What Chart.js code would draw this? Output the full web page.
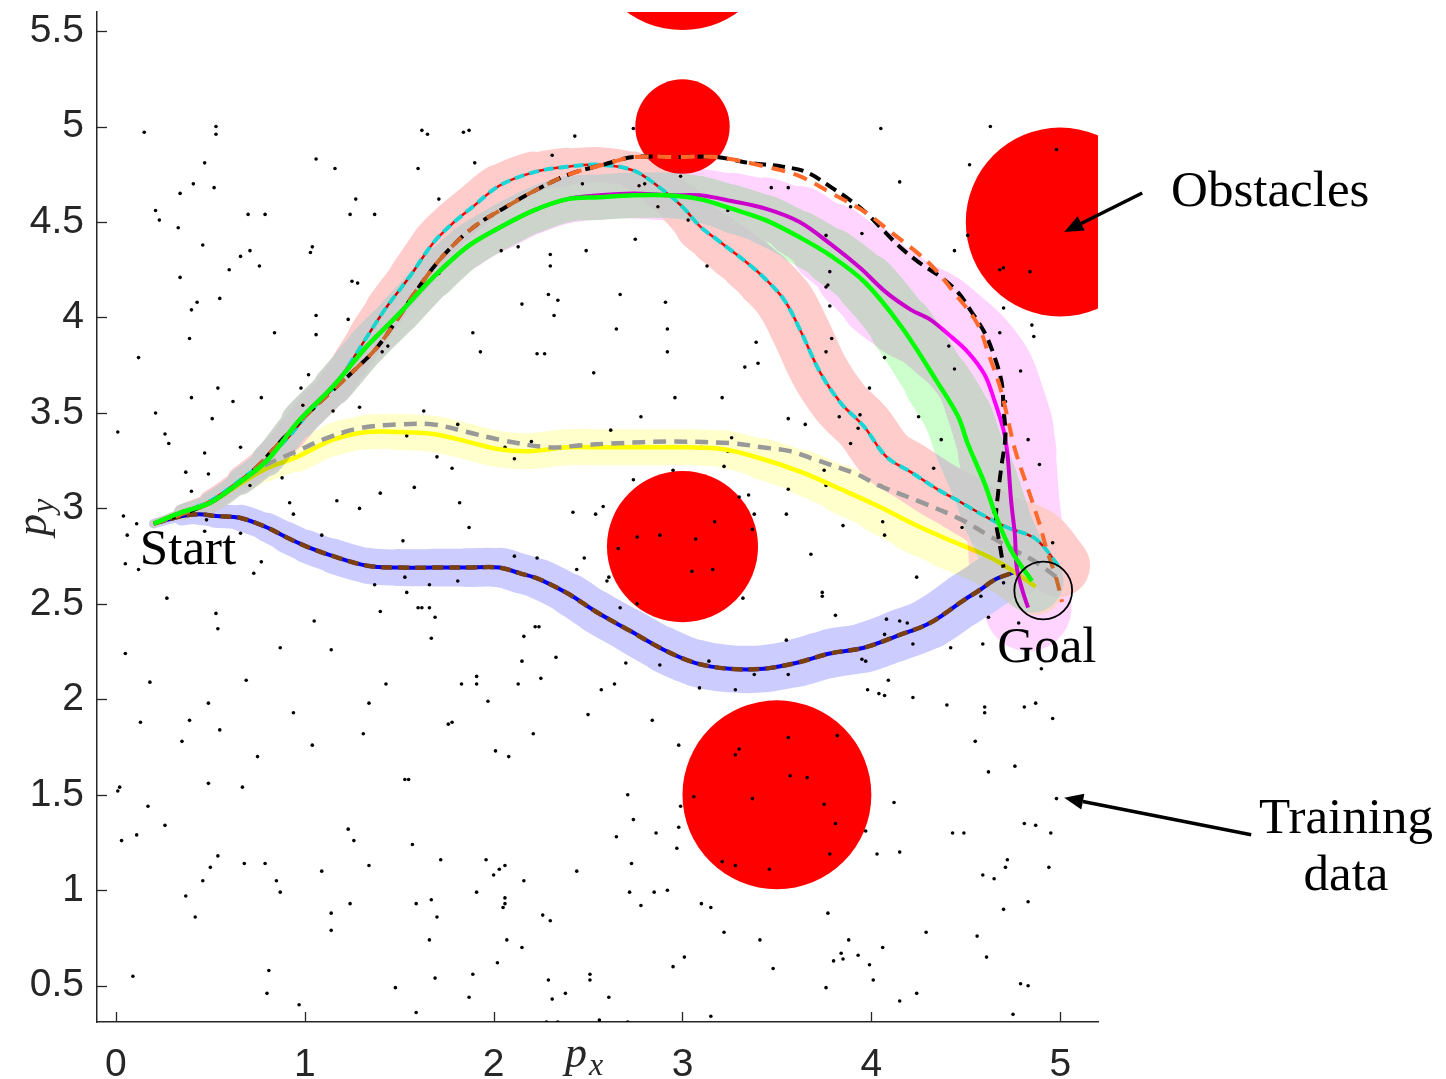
<!DOCTYPE html>
<html>
<head>
<meta charset="utf-8">
<title>Planned trajectories</title>
<script src="https://cdn.jsdelivr.net/npm/chart.js@4.4.0/dist/chart.umd.min.js"></script>
<style>
  html, body { margin: 0; padding: 0; background: #fff; }
  #wrap { width: 1446px; height: 1079px; }
</style>
</head>
<body>
<div id="wrap"><canvas id="plot" width="1446" height="1079"></canvas></div>
<script>
// axis ticks
const xTicks = [0, 1, 2, 3, 4, 5];
const yTicks = [0.5, 1, 1.5, 2, 2.5, 3, 3.5, 4, 4.5, 5, 5.5];

// obstacles (centre + radius, data units)
const obstacleX = [3, 3, 5, 3, 3.5];
const obstacleY = [6, 5, 4.5, 2.8, 1.5];
const obstacleR = [0.5, 0.25, 0.5, 0.4, 0.5];

// goal region
const goalX = 4.91, goalY = 2.57, goalR = 0.153;

// trajectories (x, y)
const bluePath = [[0.20,2.92],[0.35,2.96],[0.44,2.97],[0.53,2.96],[0.66,2.95],[0.80,2.90],[0.90,2.85],[1.01,2.80],[1.15,2.75],[1.33,2.70],[1.50,2.69],[1.68,2.69],[1.86,2.69],[2.03,2.69],[2.14,2.66],[2.24,2.63],[2.40,2.55],[2.54,2.46],[2.72,2.36],[2.90,2.26],[3.07,2.19],[3.25,2.16],[3.43,2.16],[3.60,2.19],[3.78,2.24],[3.96,2.27],[4.13,2.33],[4.31,2.40],[4.49,2.52],[4.57,2.57],[4.66,2.63],[4.77,2.67]];
const blueSd = [0,0.04,0.05,0.055,0.06,0.07,0.075,0.08,0.085,0.09,0.09,0.095,0.095,0.1,0.1,0.1,0.105,0.11,0.11,0.115,0.12,0.12,0.12,0.12,0.125,0.125,0.13,0.13,0.135,0.135,0.135,0.13];

const yellowPath = [[0.20,2.92],[0.35,2.98],[0.50,3.03],[0.66,3.13],[0.80,3.21],[0.96,3.27],[1.15,3.36],[1.33,3.40],[1.50,3.40],[1.68,3.39],[1.86,3.35],[2.03,3.31],[2.19,3.30],[2.39,3.32],[2.60,3.32],[2.80,3.32],[3.01,3.32],[3.22,3.31],[3.42,3.26],[3.63,3.19],[3.84,3.10],[4.04,3.01],[4.22,2.92],[4.40,2.84],[4.57,2.77],[4.69,2.71],[4.87,2.59]];
const yellowSd = [0,0.03,0.04,0.05,0.06,0.07,0.08,0.085,0.09,0.09,0.09,0.09,0.09,0.09,0.09,0.09,0.09,0.09,0.1,0.11,0.12,0.13,0.14,0.15,0.15,0.15,0.14];
const grayPath = [[0.20,2.92],[0.35,2.98],[0.50,3.03],[0.66,3.14],[0.80,3.23],[0.96,3.30],[1.12,3.37],[1.29,3.42],[1.50,3.44],[1.68,3.44],[1.86,3.40],[2.03,3.36],[2.29,3.32],[2.46,3.33],[2.62,3.34],[2.95,3.35],[3.28,3.34],[3.42,3.32],[3.57,3.30],[3.69,3.26],[3.92,3.18],[4.04,3.12],[4.27,3.03],[4.48,2.94],[4.60,2.87],[4.74,2.79],[4.87,2.72],[4.98,2.64]];

const redPath = [[0.20,2.92],[0.35,2.98],[0.50,3.04],[0.66,3.15],[0.80,3.26],[0.92,3.38],[1.03,3.51],[1.15,3.63],[1.24,3.76],[1.33,3.90],[1.43,4.05],[1.56,4.22],[1.68,4.39],[1.78,4.49],[1.89,4.58],[2.03,4.69],[2.21,4.76],[2.39,4.79],[2.56,4.80],[2.74,4.77],[2.88,4.68],[3.00,4.58],[3.09,4.48],[3.18,4.41],[3.26,4.35],[3.35,4.28],[3.43,4.21],[3.54,4.09],[3.63,3.92],[3.73,3.71],[3.84,3.55],[3.96,3.43],[4.08,3.27],[4.21,3.19],[4.35,3.10],[4.46,3.04],[4.60,2.96],[4.72,2.90],[4.87,2.84],[4.99,2.70]];
const redSd = [0,0.03,0.045,0.06,0.07,0.075,0.08,0.085,0.09,0.095,0.1,0.105,0.11,0.11,0.11,0.11,0.1,0.09,0.085,0.09,0.1,0.11,0.12,0.13,0.135,0.14,0.145,0.15,0.15,0.15,0.15,0.15,0.15,0.15,0.15,0.15,0.155,0.16,0.16,0.165];

const greenPath = [[0.20,2.92],[0.35,2.98],[0.50,3.03],[0.66,3.14],[0.80,3.25],[0.97,3.46],[1.15,3.64],[1.33,3.85],[1.50,4.02],[1.68,4.21],[1.86,4.37],[2.03,4.47],[2.21,4.56],[2.39,4.62],[2.56,4.63],[2.74,4.64],[2.92,4.64],[3.09,4.62],[3.26,4.57],[3.44,4.51],[3.62,4.42],[3.79,4.32],[3.97,4.18],[4.16,3.95],[4.35,3.66],[4.46,3.48],[4.51,3.34],[4.60,3.13],[4.66,2.96],[4.74,2.78],[4.85,2.62]];
const greenSd = [0,0.03,0.045,0.06,0.07,0.085,0.095,0.1,0.1,0.105,0.11,0.11,0.115,0.115,0.115,0.115,0.115,0.115,0.12,0.125,0.13,0.14,0.15,0.16,0.17,0.175,0.175,0.175,0.17,0.165,0.16];

const magentaPath = [[0.20,2.92],[0.35,2.98],[0.50,3.03],[0.66,3.14],[0.80,3.25],[0.97,3.46],[1.15,3.64],[1.33,3.85],[1.50,4.02],[1.68,4.21],[1.86,4.37],[2.03,4.47],[2.21,4.56],[2.39,4.62],[2.56,4.64],[2.74,4.65],[2.92,4.64],[3.09,4.64],[3.26,4.61],[3.44,4.57],[3.62,4.50],[3.79,4.38],[3.94,4.26],[4.08,4.13],[4.21,4.04],[4.31,3.99],[4.41,3.91],[4.51,3.82],[4.60,3.70],[4.65,3.57],[4.70,3.41],[4.72,3.29],[4.74,3.04],[4.76,2.86],[4.77,2.69],[4.80,2.57],[4.83,2.48]];
const magentaSd = [0,0.03,0.045,0.06,0.07,0.085,0.095,0.1,0.1,0.105,0.11,0.115,0.12,0.12,0.125,0.125,0.13,0.13,0.14,0.15,0.17,0.2,0.23,0.25,0.26,0.26,0.26,0.26,0.26,0.26,0.26,0.25,0.25,0.25,0.24,0.23,0.22];

const blackPath = [[0.20,2.92],[0.35,2.97],[0.50,3.03],[0.66,3.14],[0.76,3.23],[0.88,3.36],[1.01,3.49],[1.15,3.62],[1.28,3.74],[1.38,3.84],[1.49,3.99],[1.59,4.14],[1.73,4.32],[1.89,4.47],[2.05,4.57],[2.23,4.67],[2.40,4.75],[2.58,4.80],[2.74,4.84],[2.97,4.84],[3.18,4.84],[3.35,4.81],[3.53,4.79],[3.66,4.76],[3.79,4.68],[3.88,4.62],[3.97,4.55],[4.06,4.46],[4.15,4.37],[4.25,4.29],[4.37,4.21],[4.46,4.13],[4.53,4.03],[4.60,3.92],[4.65,3.80],[4.69,3.66],[4.70,3.52],[4.71,3.38],[4.69,3.23],[4.67,3.07],[4.66,2.94],[4.68,2.81],[4.70,2.69]];
const orangePath = [[0.20,2.92],[0.35,2.97],[0.50,3.03],[0.66,3.14],[0.76,3.23],[0.88,3.36],[1.01,3.49],[1.15,3.62],[1.28,3.74],[1.38,3.84],[1.49,3.99],[1.59,4.14],[1.73,4.32],[1.89,4.47],[2.05,4.57],[2.23,4.67],[2.40,4.75],[2.58,4.80],[2.74,4.84],[2.97,4.84],[3.18,4.84],[3.44,4.79],[3.62,4.74],[3.79,4.65],[3.97,4.55],[4.10,4.45],[4.23,4.35],[4.33,4.26],[4.43,4.14],[4.56,3.97],[4.62,3.81],[4.68,3.64],[4.72,3.48],[4.76,3.31],[4.83,3.10],[4.89,2.92],[4.93,2.78],[4.98,2.63],[5.01,2.51]];

// training inputs
const trainingData = [
[0.15,4.97],[0.53,5.00],[0.53,4.96],[0.47,4.81],[0.41,4.70],[0.52,4.68],[0.34,4.65],[1.06,4.83],[1.16,4.78],[1.27,4.62],[0.21,4.56],[0.23,4.51],[0.33,4.47],[0.70,4.54],[0.79,4.54],[1.24,4.54],[1.37,4.54],[0.46,4.38],[0.71,4.35],[0.66,4.32],[1.03,4.34],[1.04,4.37],[0.76,4.27],[0.60,4.25],[0.34,4.21],[1.25,4.19],[1.28,4.18],[0.55,4.10],
[0.43,4.08],[0.40,4.04],[0.39,3.89],[0.12,3.79],[0.84,3.92],[1.06,4.01],[1.06,3.91],[1.23,3.99],[1.02,3.70],[0.98,3.63],[0.54,3.63],[1.56,4.10],[1.71,4.23],[1.41,3.82],[1.44,3.85],[1.45,3.95],[1.89,3.92],[1.93,3.82],
[1.62,4.98],[1.65,4.96],[1.84,4.97],[1.87,4.98],[2.43,4.95],[2.74,4.99],[1.60,4.78],[1.90,4.81],[2.31,4.85],[1.71,4.62],[0.99,3.54],[1.15,3.51],[1.29,3.53],[1.63,3.51],[2.47,4.70],[2.80,4.70],[2.77,4.69],[2.99,4.74],[2.87,4.58],[3.03,4.51],[2.75,4.41],[2.04,4.35],[2.13,4.37],[2.30,4.33],[2.49,4.35],[2.30,4.27],[2.29,4.12],[2.34,4.09],[2.67,4.12],[2.91,4.08],[2.15,4.07],[2.32,4.01],[2.65,3.94],[2.92,3.94],[2.23,3.81],[2.27,3.81],[2.92,3.82],[2.53,3.71],[2.96,3.58],[2.78,3.48],
[4.05,4.99],[4.63,5.00],[4.98,4.88],[4.52,4.80],[4.15,4.71],[3.47,4.68],[3.56,4.68],[3.24,4.56],[3.76,4.43],[3.95,4.44],[4.51,4.43],[3.89,4.58],[4.44,4.35],[4.68,4.25],[4.70,4.26],[4.84,4.24],[3.13,4.27],[3.78,4.24],[3.77,4.17],[3.76,4.16],
[3.39,3.87],[3.33,3.74],[3.40,3.76],[3.78,4.06],[3.79,3.89],[3.76,3.82],[4.07,3.79],[3.99,3.63],[3.21,3.58],[2.62,3.41],[3.56,3.47],[3.65,3.44],[3.83,3.48],[3.94,3.49],[3.93,3.42],[3.89,3.34],[3.26,3.37],[2.20,3.35],[2.06,3.32],[2.11,3.26],[2.45,3.33],[3.10,3.32],[3.24,3.30],[3.22,3.22],[2.95,3.20],[2.74,3.15],[3.75,3.20],[3.76,3.12],[3.56,3.10],[4.05,3.12],[4.25,3.48],[4.37,3.36],[4.33,3.21],[4.41,3.85],[4.44,3.73],[4.68,3.92],[4.70,4.05],[4.85,3.96],[4.86,3.90],[4.79,3.72],[4.83,3.36],[4.89,3.23],[4.71,3.56],[4.70,3.48],[4.24,2.64],[4.06,2.93],[4.07,2.86],[3.85,2.91],[3.55,2.97],[3.68,2.76],[4.48,2.90],[4.96,2.82],[3.30,3.06],[3.35,3.07],[2.58,3.01],[2.54,2.97],[2.42,2.98],[3.38,2.97],[3.17,2.93],[3.37,2.89],[3.07,2.84],[2.88,2.86],[2.76,2.85],[2.66,2.79],[2.11,2.75],[2.23,2.74],[2.48,2.74],[2.44,2.68],[3.05,2.67],[3.16,2.68],[2.61,2.64],[2.60,2.62],[4.70,2.61],
[4.65,2.98],[4.58,2.54],[4.62,2.43],[4.78,2.40],[4.08,2.42],[4.15,2.41],[4.19,2.40],[4.07,2.34],[4.22,2.36],[4.22,2.29],[4.42,2.27],[4.59,2.29],[4.90,2.16],[4.09,2.10],[4.07,2.02],[4.22,2.01],
[2.76,2.50],[2.67,2.48],[3.32,2.53],[3.74,2.56],[3.74,2.54],[3.81,2.44],[3.55,2.31],[3.95,2.21],[3.97,2.20],[3.14,2.20],[2.88,2.18],[2.70,2.19],[3.38,2.13],[3.56,2.13],[2.57,2.05],[2.64,2.08],[3.09,2.06],[3.28,2.05],[3.98,2.05],[4.04,2.03],[4.40,1.97],[4.60,1.96],[4.60,1.93],[4.81,1.96],[4.87,1.98],[4.96,1.90],[2.84,1.89],[4.55,1.78],[2.98,1.76],[4.62,1.62],[4.76,1.65],[3.56,1.80],[3.82,1.81],[3.28,1.71],[3.30,1.74],[3.57,1.60],[3.66,1.59],[3.06,1.49],[3.37,1.48],[3.75,1.45],[2.99,1.44],[3.81,1.35],[3.97,1.31],[2.71,1.50],[2.74,1.37],[2.65,1.28],[2.86,1.30],[2.98,1.33],[2.97,1.22],[4.12,1.46],[4.98,1.48],[4.81,1.35],[4.87,1.34],[4.95,1.30],[4.43,1.30],[4.49,1.30],[4.03,1.19],[4.15,1.20],[3.78,1.19],[3.21,1.15],[3.28,1.13],[3.46,1.11],[2.73,1.14],[4.72,1.16],[4.71,1.12],[4.94,1.12],[4.59,1.08],[4.65,1.06],[2.72,0.99],[2.85,0.99],[2.92,1.00],[2.78,0.92],[3.10,0.93],[3.15,0.91],[3.77,0.88],[4.83,0.94],[4.70,0.90],[4.29,0.78],[4.56,0.76],[3.22,0.78],[3.41,0.74],[3.88,0.74],[4.06,0.70],[3.84,0.67],[3.85,0.64],[3.80,0.63],[3.93,0.66],[3.99,0.61],[4.61,0.65],[3.01,0.65],[2.95,0.60],[3.48,0.59],[4.01,0.53],[3.76,0.49],[4.79,0.51],[4.83,0.50],[4.24,0.46],[4.15,0.42],[2.61,0.44],[4.75,0.35],[3.15,0.34],[2.56,0.32],[2.71,0.31],
[0.27,2.53],[0.53,2.45],[0.54,2.37],[0.05,2.24],[0.18,2.09],[0.13,1.88],[0.39,1.89],[0.49,1.98],[0.55,1.84],[0.35,1.78],[0.69,2.10],[0.87,2.27],[1.05,2.41],[1.14,2.26],[0.94,1.93],[0.75,1.70],[1.04,1.76],[1.37,2.60],[1.54,2.56],[1.66,2.60],[1.81,2.62],[1.40,2.46],[1.60,2.48],[1.62,2.48],[1.66,2.48],[1.69,2.43],[1.67,2.32],[1.43,2.08],[1.34,1.98],[1.31,1.82],[1.83,2.08],[1.91,2.12],[1.91,2.08],[1.97,1.99],[1.76,1.87],[1.78,1.88],[2.01,1.73],[2.08,1.70],[2.13,2.08],[2.25,2.11],[2.15,2.20],[2.16,2.33],[2.22,2.38],[2.24,2.38],[2.33,2.22],[2.21,1.82],[2.50,1.92],[1.53,1.58],[1.55,1.58],[0.01,1.52],[0.02,1.54],[0.17,1.44],[0.26,1.34],[0.03,1.26],[0.11,1.29],[0.49,1.56],[0.67,1.54],[0.54,1.18],[0.50,1.12],[0.68,1.14],[0.79,1.14],[0.46,1.05],[0.37,0.97],[0.42,0.86],[0.85,1.05],[0.87,0.99],[1.09,1.10],[1.23,1.32],[1.26,1.26],[1.34,1.13],[1.57,1.24],[1.72,1.16],[1.96,1.16],[2.00,1.08],[2.03,1.11],[2.06,1.13],[2.16,1.05],[2.44,1.10],[1.91,0.99],[2.06,0.96],[2.06,0.93],[2.05,0.91],[1.67,0.95],[1.59,0.93],[1.70,0.86],[1.24,0.93],[1.14,0.88],[1.14,0.79],[1.66,0.74],[2.26,0.87],[2.30,0.84],[2.07,0.74],[2.15,0.70],[2.02,0.62],[0.09,0.55],[0.81,0.58],[0.80,0.46],[0.97,0.40],[1.48,0.49],[1.69,0.54],[1.89,0.56],[1.87,0.44],[1.59,0.36],[2.29,0.53],[2.31,0.43],[2.38,0.46],[2.51,0.56],[2.51,0.53],[2.34,0.31],[2.28,0.31],
[0.40,3.58],[0.62,3.56],[0.77,3.58],[0.21,3.50],[0.51,3.47],[0.01,3.40],[0.26,3.39],[0.28,3.34],[0.47,3.29],[0.66,3.32],[0.37,3.19],[0.49,3.18],[0.40,3.09],[0.71,3.12],[0.88,3.16],[0.95,3.27],[1.81,3.44],[1.20,3.38],[1.54,3.38],[1.70,3.27],[1.78,3.21],[1.58,3.11],[1.40,3.08],[1.17,3.04],[0.92,3.03],[1.29,3.00],[1.82,3.03],[1.87,2.90],[0.94,2.97],[0.04,2.96],[0.11,2.92],[0.06,2.86],[0.48,2.94],[0.47,2.88],[0.66,2.87],[1.09,2.86],[1.52,2.83],[0.05,2.71],[0.12,2.68],[0.77,2.72],[0.73,2.66],[1.53,2.64]
];

const toPts = arr => arr.map(([x, y]) => ({ x, y }));
const unitPx = chart => chart.scales.x.getPixelForValue(1) - chart.scales.x.getPixelForValue(0);

// uncertainty tube drawn as a wide stroke whose width follows the sd values
function band(path, sd, color) {
  return {
    type: 'line', data: toPts(path), isBand: true,
    borderColor: color, borderWidth: 10, borderCapStyle: 'round', borderJoinStyle: 'round',
    pointRadius: 0, tension: 0.35, fill: false, clip: 0,
    segment: {
      borderWidth: c => (sd[c.p0DataIndex] + sd[c.p1DataIndex]) * unitPx(c.chart) + 2
    }
  };
}
function path(pts, color, width, dash) {
  return {
    type: 'line', data: toPts(pts), borderColor: color, borderWidth: width,
    borderDash: dash || [], borderCapStyle: 'butt', borderJoinStyle: 'round',
    pointRadius: 0, tension: 0.35, fill: false, clip: 0
  };
}

// bottom to top
const layers = [
  {
    type: 'scatter', data: toPts(trainingData), clip: 0,
    pointRadius: 1.8, pointBorderWidth: 0, backgroundColor: '#000'
  },
  band(bluePath, blueSd, '#ccccff'),
  band(yellowPath, yellowSd, '#ffffcc'),
  band(redPath, redSd, '#ffcccc'),
  path(redPath, '#ff0000', 2.5),
  path(redPath, '#19d6d6', 4, [10, 5]),
  path(bluePath, '#0000ff', 4),
  path(bluePath, '#7a3f0c', 4.5, [11, 6]),
  path(yellowPath, '#ffff00', 4.5),
  path(grayPath, '#999999', 4.5, [13, 8]),
  band(magentaPath, magentaSd, '#ffd4ff'),
  path(magentaPath, '#ff00ff', 4),
  path(blackPath, '#000000', 4, [12, 7]),
  path(orangePath, '#ff6a2a', 4, [14, 9]),
  band(greenPath, greenSd, '#ccffcc'),
  path(greenPath, '#00ff00', 4.5)
];
layers.forEach((d, i) => { d.order = layers.length - i; });

// darken blend keeps overlapping tubes from double-shading
const blendPlugin = {
  id: 'blend',
  beforeDatasetDraw(chart, args) {
    if (chart.data.datasets[args.index].isBand) {
      chart.ctx.save();
      chart.ctx.globalCompositeOperation = 'darken';
    }
  },
  afterDatasetDraw(chart, args) {
    if (chart.data.datasets[args.index].isBand) chart.ctx.restore();
  }
};

// obstacles under the data, goal ring on top
const circlePlugin = {
  id: 'circles',
  beforeDatasetsDraw(chart) {
    const { ctx, chartArea: a } = chart;
    const xs = chart.scales.x, ys = chart.scales.y;
    ctx.save();
    ctx.beginPath();
    ctx.rect(a.left, a.top, a.right - a.left, a.bottom - a.top);
    ctx.clip();
    ctx.fillStyle = '#ff0000';
    obstacleX.forEach((x, i) => {
      ctx.beginPath();
      ctx.arc(xs.getPixelForValue(x), ys.getPixelForValue(obstacleY[i]), obstacleR[i] * unitPx(chart), 0, Math.PI * 2);
      ctx.fill();
    });
    ctx.restore();
  },
  afterDatasetsDraw(chart) {
    const { ctx } = chart;
    const xs = chart.scales.x, ys = chart.scales.y;
    ctx.save();
    ctx.strokeStyle = '#000';
    ctx.lineWidth = 1.8;
    ctx.beginPath();
    ctx.arc(xs.getPixelForValue(goalX), ys.getPixelForValue(goalY), goalR * unitPx(chart), 0, Math.PI * 2);
    ctx.stroke();
    ctx.restore();
  }
};

function arrow(ctx, x0, y0, x1, y1) {
  const ang = Math.atan2(y1 - y0, x1 - x0);
  const L = 19, W = 8;
  const bx = x1 - L * Math.cos(ang), by = y1 - L * Math.sin(ang);
  ctx.beginPath();
  ctx.moveTo(x0, y0);
  ctx.lineTo(bx, by);
  ctx.stroke();
  ctx.beginPath();
  ctx.moveTo(x1, y1);
  ctx.lineTo(bx + W * Math.sin(ang), by - W * Math.cos(ang));
  ctx.lineTo(bx - W * Math.sin(ang), by + W * Math.cos(ang));
  ctx.closePath();
  ctx.fill();
}

const annotPlugin = {
  id: 'annot',
  afterDraw(chart) {
    const { ctx, chartArea: a } = chart;
    const xs = chart.scales.x, ys = chart.scales.y;
    ctx.save();
    // inward tick marks
    ctx.strokeStyle = '#262626';
    ctx.lineWidth = 1.3;
    xTicks.forEach(v => {
      const p = Math.round(xs.getPixelForValue(v)) + 0.5;
      ctx.beginPath(); ctx.moveTo(p, a.bottom); ctx.lineTo(p, a.bottom - 10); ctx.stroke();
    });
    yTicks.forEach(v => {
      const p = Math.round(ys.getPixelForValue(v)) + 0.5;
      ctx.beginPath(); ctx.moveTo(a.left, p); ctx.lineTo(a.left + 10, p); ctx.stroke();
    });

    // axis titles
    ctx.fillStyle = '#262626';
    ctx.textBaseline = 'alphabetic';
    ctx.textAlign = 'left';
    ctx.font = 'italic 44px "Liberation Serif", serif';
    ctx.fillText('p', 565, 1067);
    ctx.font = 'italic 32px "Liberation Serif", serif';
    ctx.fillText('x', 589, 1075);
    ctx.save();
    ctx.translate(46, 536);
    ctx.rotate(-Math.PI / 2);
    ctx.font = 'italic 44px "Liberation Serif", serif';
    ctx.fillText('p', 0, 0);
    ctx.font = 'italic 32px "Liberation Serif", serif';
    ctx.fillText('y', 23, 7);
    ctx.restore();

    // text labels
    ctx.fillStyle = '#000';
    ctx.font = '51px "Liberation Serif", serif';
    ctx.fillText('Start', xs.getPixelForValue(0.127), ys.getPixelForValue(2.71));
    ctx.fillText('Goal', xs.getPixelForValue(4.667), ys.getPixelForValue(2.196));
    ctx.fillText('Obstacles', xs.getPixelForValue(5.587), ys.getPixelForValue(4.584));
    ctx.textAlign = 'center';
    ctx.fillText('Training', xs.getPixelForValue(6.513), ys.getPixelForValue(1.301));
    ctx.fillText('data', xs.getPixelForValue(6.513), ys.getPixelForValue(1.003));

    // arrows
    ctx.strokeStyle = '#000';
    ctx.lineWidth = 3.5;
    arrow(ctx, xs.getPixelForValue(5.434), ys.getPixelForValue(4.652), xs.getPixelForValue(5.021), ys.getPixelForValue(4.448));
    arrow(ctx, xs.getPixelForValue(6.011), ys.getPixelForValue(1.291), xs.getPixelForValue(5.021), ys.getPixelForValue(1.484));
    ctx.restore();
  }
};

const tickFont = { family: '"Liberation Sans", Arial, Helvetica, sans-serif', size: 39 };

new Chart(document.getElementById('plot'), {
  type: 'scatter',
  data: { datasets: layers },
  options: {
    responsive: false,
    devicePixelRatio: 1,
    animation: false,
    events: [],
    layout: { padding: { left: 0, right: 348, top: 12, bottom: 0 } },
    plugins: { legend: { display: false }, tooltip: { enabled: false } },
    scales: {
      x: {
        type: 'linear', position: 'bottom', min: -0.1, max: 5.2,
        afterBuildTicks: s => { s.ticks = xTicks.map(v => ({ value: v })); },
        afterFit: s => { s.height = 57; s.paddingLeft = 0; s.paddingRight = 0; },
        grid: { display: false, drawTicks: false },
        border: { display: true, color: '#262626', width: 1.5 },
        ticks: { font: tickFont, color: '#262626', padding: 20, maxRotation: 0, autoSkip: false, callback: v => String(v) }
      },
      y: {
        type: 'linear', position: 'left', min: 0.31, max: 5.6,
        afterBuildTicks: s => { s.ticks = yTicks.map(v => ({ value: v })); },
        afterFit: s => { s.width = 97; s.paddingTop = 0; s.paddingBottom = 0; },
        grid: { display: false, drawTicks: false },
        border: { display: true, color: '#262626', width: 1.5 },
        ticks: { font: tickFont, color: '#262626', padding: 13, autoSkip: false, callback: v => String(v) }
      }
    }
  },
  plugins: [blendPlugin, circlePlugin, annotPlugin]
});
</script>
</body>
</html>
